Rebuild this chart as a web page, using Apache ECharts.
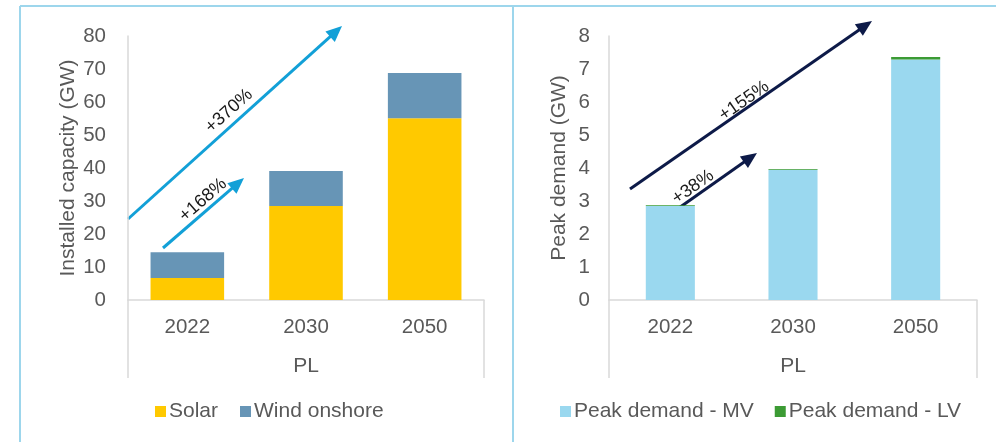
<!DOCTYPE html>
<html><head><meta charset="utf-8">
<script src="https://cdn.jsdelivr.net/npm/echarts@6/dist/echarts.min.js"></script>
<style>html,body{margin:0;padding:0;background:#fff}#c{width:996px;height:442px}</style>
</head><body><div id="c"></div>
<script>
var categories = ['2022', '2030', '2050'];
var groupLabel = 'PL';
var solar = [6.7, 28.5, 55.1];
var windOnshore = [7.8, 10.6, 13.7];
var peakMV = [2.85, 3.95, 7.29];
var peakLV = [0.02, 0.02, 0.07];
var capTicks = { min: 0, max: 80, interval: 10 };
var demandTicks = { min: 0, max: 8, interval: 1 };

var FONT = '"Liberation Sans", Arial, sans-serif';
var GREY = '#595959';
var AXIS = '#d9d9d9';
var BORDER = '#9dd6ec';

function arrow(x1, y1, x2, y2, color, w, hl, hw) {
  var dx = x2 - x1, dy = y2 - y1, L = Math.sqrt(dx*dx + dy*dy);
  var ux = dx / L, uy = dy / L, px = -uy, py = ux;
  var bx = x2 - ux * hl, by = y2 - uy * hl;
  return [
    { type: 'line', shape: { x1: x1, y1: y1, x2: bx + ux*2, y2: by + uy*2 }, style: { stroke: color, lineWidth: w } },
    { type: 'polygon', shape: { points: [[x2, y2], [bx + px*hw/2, by + py*hw/2], [bx - px*hw/2, by - py*hw/2]] }, style: { fill: color } }
  ];
}
function label(text, cx, cy, deg) {
  return { type: 'text', x: cx, y: cy, rotation: deg * Math.PI / 180,
    style: { text: text, font: '18px ' + FONT, fill: '#1a1a1a', align: 'center', verticalAlign: 'middle' } };
}
function vline(x, y1, y2) {
  return { type: 'line', shape: { x1: x, y1: y1, x2: x, y2: y2 }, style: { stroke: AXIS, lineWidth: 1.5 } };
}

var graphics = [
  { type: 'line', shape: { x1: 20, y1: 6, x2: 996, y2: 6 }, style: { stroke: BORDER, lineWidth: 2 } },
  { type: 'line', shape: { x1: 20, y1: 6, x2: 20, y2: 442 }, style: { stroke: BORDER, lineWidth: 2 } },
  { type: 'line', shape: { x1: 513, y1: 6, x2: 513, y2: 442 }, style: { stroke: BORDER, lineWidth: 2 } },
  vline(128, 300, 378), vline(484, 300, 378), vline(609, 300, 378), vline(977, 300, 378)
];
graphics = graphics.concat(arrow(128, 219, 342, 26, '#12a0d7', 3, 16, 14));
graphics = graphics.concat(arrow(163, 248, 244, 178, '#12a0d7', 3, 16, 14));
graphics = graphics.concat(arrow(630, 189, 872, 21, '#0d1a48', 3, 16, 14));
graphics = graphics.concat(arrow(659, 222, 757, 153, '#0d1a48', 3, 16, 14));
graphics.push(label('+370%', 229, 111, 42));
graphics.push(label('+168%', 203, 200, 41));
graphics.push(label('+155%', 744, 101, 35));
graphics.push(label('+38%', 693, 187, 35));

function xAx(gi) {
  return { type: 'category', gridIndex: gi, data: categories,
    axisLine: { show: true, lineStyle: { color: AXIS, width: 1.5 } },
    axisTick: { show: false },
    axisLabel: { color: GREY, fontFamily: FONT, fontSize: 20.5, margin: 17 },
    name: groupLabel, nameLocation: 'middle', nameGap: 56,
    nameTextStyle: { color: GREY, fontFamily: FONT, fontSize: 21 } };
}
function yAx(gi, t, name, margin, gap) {
  return { type: 'value', gridIndex: gi, min: t.min, max: t.max, interval: t.interval,
    axisLine: { show: true, lineStyle: { color: AXIS, width: 1.5 } },
    axisTick: { show: false }, splitLine: { show: false },
    axisLabel: { color: GREY, fontFamily: FONT, fontSize: 20.5, margin: margin },
    name: name, nameLocation: 'middle', nameGap: gap, nameRotate: 90,
    nameTextStyle: { color: GREY, fontFamily: FONT, fontSize: 21 } };
}

var option = {
  animation: false,
  backgroundColor: '#ffffff',
  grid: [
    { left: 128, right: 512, top: 36, bottom: 142 },
    { left: 609, right: 19, top: 36, bottom: 142 }
  ],
  xAxis: [xAx(0), xAx(1)],
  yAxis: [yAx(0, capTicks, 'Installed capacity (GW)', 22, 49), yAx(1, demandTicks, 'Peak demand (GW)', 19, 39)],
  legend: [
    { data: ['Solar', 'Wind onshore'], left: 150, top: 396, itemWidth: 11, itemHeight: 11, itemGap: 22, icon: 'rect',
      textStyle: { color: GREY, fontFamily: FONT, fontSize: 21, padding: [0,0,0,-2] } },
    { data: ['Peak demand - MV', 'Peak demand - LV'], left: 555, top: 396, itemWidth: 11, itemHeight: 11, itemGap: 21, icon: 'rect',
      textStyle: { color: GREY, fontFamily: FONT, fontSize: 21, padding: [0,0,0,-2] } }
  ],
  series: [
    { name: 'Solar', type: 'bar', stack: 'a', xAxisIndex: 0, yAxisIndex: 0, data: solar, barWidth: '62%', itemStyle: { color: '#ffc900' } },
    { name: 'Wind onshore', type: 'bar', stack: 'a', xAxisIndex: 0, yAxisIndex: 0, data: windOnshore, barWidth: '62%', itemStyle: { color: '#6795b6' } },
    { name: 'Peak demand - MV', type: 'bar', stack: 'b', xAxisIndex: 1, yAxisIndex: 1, data: peakMV, barWidth: '40%', itemStyle: { color: '#9ad8ef' } },
    { name: 'Peak demand - LV', type: 'bar', stack: 'b', xAxisIndex: 1, yAxisIndex: 1, data: peakLV, barWidth: '40%', itemStyle: { color: '#3c9b34' } }
  ],
  graphic: graphics
};
var chart = echarts.init(document.getElementById('c'), null, { renderer: 'canvas' });
chart.setOption(option);
</script></body></html>
